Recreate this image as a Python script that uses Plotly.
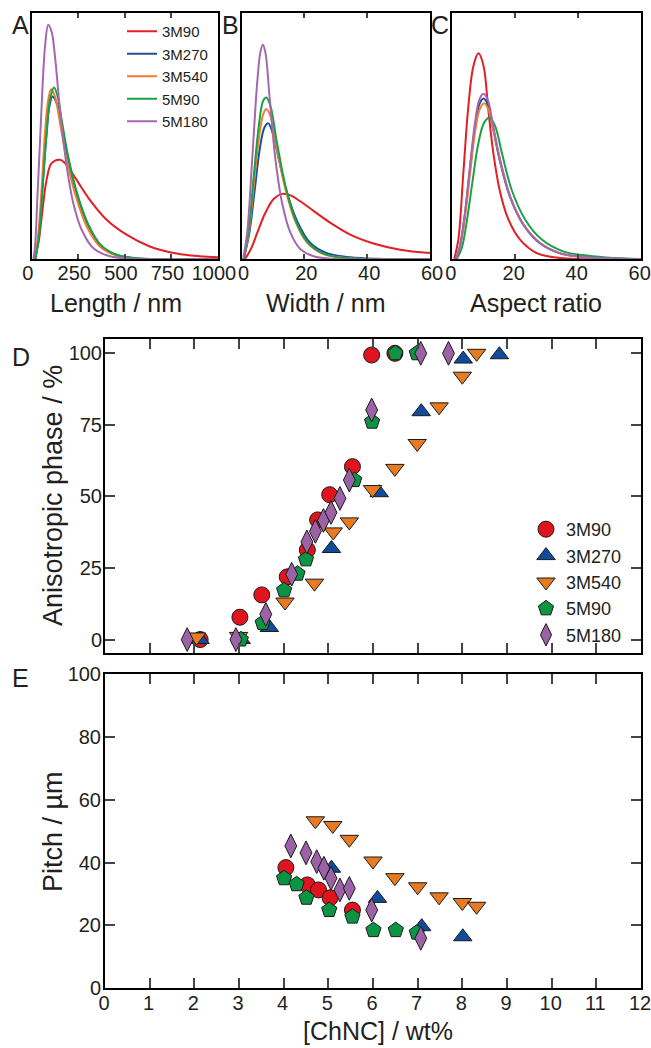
import plotly.graph_objects as go

# ---- Panels A-C: size distributions (y normalised to panel height)
samples = ['3M90', '3M270', '3M540', '5M90', '5M180']

len_3m90_x = [14, 36, 54, 80, 107, 152, 188, 241, 312, 402, 509, 634, 777, 902, 1000]
len_3m90_y = [0, 0.065, 0.173, 0.322, 0.39, 0.404, 0.383, 0.322, 0.241, 0.16, 0.099, 0.051, 0.022, 0.011, 0.007]
len_3m270_x = [20, 39, 57, 77, 95, 112, 134, 161, 196, 241, 304, 375, 464, 598, 1000]
len_3m270_y = [0, 0.106, 0.282, 0.485, 0.621, 0.661, 0.634, 0.539, 0.404, 0.268, 0.136, 0.051, 0.014, 0.001, 0]
len_3m540_x = [18, 36, 54, 71, 89, 104, 125, 152, 188, 232, 295, 366, 455, 580, 1000]
len_3m540_y = [0, 0.106, 0.295, 0.512, 0.648, 0.691, 0.661, 0.553, 0.404, 0.268, 0.133, 0.051, 0.014, 0.001, 0]
len_5m90_x = [21, 41, 59, 80, 98, 120, 137, 161, 196, 241, 304, 375, 464, 598, 1000]
len_5m90_y = [0, 0.106, 0.295, 0.512, 0.648, 0.698, 0.668, 0.566, 0.417, 0.275, 0.14, 0.054, 0.015, 0.001, 0]
len_5m180_x = [9, 18, 30, 45, 59, 73, 89, 107, 125, 152, 188, 223, 268, 330, 420, 545, 1000]
len_5m180_y = [0, 0.051, 0.241, 0.485, 0.715, 0.878, 0.953, 0.925, 0.824, 0.607, 0.377, 0.228, 0.119, 0.045, 0.011, 0.001, 0]

wid_3m90_x = [1.1, 2.9, 5, 7.6, 10.3, 12.9, 15.6, 18.7, 23, 28.3, 34.6, 42, 50.5, 60]
wid_3m90_y = [0, 0.038, 0.106, 0.188, 0.245, 0.265, 0.259, 0.235, 0.195, 0.147, 0.099, 0.063, 0.038, 0.024]
wid_3m270_x = [0.7, 2.5, 4.1, 5.8, 7.3, 8.5, 9.9, 11.9, 14.5, 17.7, 21.9, 27.2, 34.6, 43, 60]
wid_3m270_y = [0, 0.106, 0.269, 0.446, 0.535, 0.552, 0.514, 0.405, 0.269, 0.154, 0.065, 0.024, 0.007, 0.001, 0]
wid_3m540_x = [0.7, 2.3, 3.9, 5.5, 6.9, 7.9, 9.2, 11.3, 14, 17.1, 20.8, 26.1, 34.6, 60]
wid_3m540_y = [0, 0.106, 0.297, 0.487, 0.589, 0.61, 0.582, 0.446, 0.283, 0.154, 0.068, 0.02, 0.003, 0]
wid_5m90_x = [0.7, 2.3, 3.9, 5.5, 6.9, 7.9, 9.2, 11.3, 14, 17.1, 20.8, 26.1, 32.5, 60]
wid_5m90_y = [0, 0.12, 0.337, 0.541, 0.644, 0.657, 0.623, 0.473, 0.297, 0.161, 0.072, 0.022, 0.004, 0]
wid_5m180_x = [0.5, 1.8, 3.4, 5.0, 6.0, 6.8, 7.6, 9.0, 10.8, 12.9, 15.6, 18.7, 23, 28.3, 60]
wid_5m180_y = [0, 0.106, 0.405, 0.718, 0.841, 0.872, 0.841, 0.65, 0.405, 0.229, 0.106, 0.041, 0.011, 0.001, 0]

ar_3m90_x = [0.8, 2.1, 3.7, 5.3, 6.9, 8.5, 10.1, 11.6, 13.2, 15.3, 18, 21.7, 27, 34.4, 60]
ar_3m90_y = [0, 0.079, 0.351, 0.623, 0.786, 0.837, 0.786, 0.61, 0.433, 0.276, 0.161, 0.079, 0.024, 0.004, 0]
ar_3m270_x = [1.4, 2.6, 4.2, 5.8, 7.4, 8.8, 10.1, 11.4, 13.2, 15.3, 18.5, 22.8, 28, 34.4, 42.9, 53.4, 60]
ar_3m270_y = [0, 0.052, 0.181, 0.365, 0.535, 0.63, 0.653, 0.63, 0.528, 0.399, 0.253, 0.139, 0.064, 0.023, 0.007, 0.001, 0]
ar_3m540_x = [1.4, 2.6, 4.2, 5.8, 7.4, 8.9, 10.3, 11.6, 13.4, 15.6, 18.7, 23, 28.3, 34.6, 42.9, 53.4, 60]
ar_3m540_y = [0, 0.045, 0.167, 0.344, 0.514, 0.61, 0.634, 0.61, 0.514, 0.392, 0.249, 0.136, 0.063, 0.022, 0.007, 0.001, 0]
ar_5m90_x = [1.6, 3.2, 4.8, 6.7, 8.5, 10.3, 12, 13.8, 15.9, 19, 23.3, 28.6, 35.4, 42.9, 51.3, 60]
ar_5m90_y = [0, 0.045, 0.154, 0.324, 0.473, 0.555, 0.575, 0.541, 0.433, 0.283, 0.161, 0.079, 0.031, 0.014, 0.004, 0]
ar_5m180_x = [1.4, 2.6, 4.2, 5.8, 7.4, 8.8, 10.1, 11.4, 13.2, 15.3, 18.5, 22.8, 28, 34.4, 42.9, 53.4, 60]
ar_5m180_y = [0, 0.052, 0.188, 0.378, 0.555, 0.65, 0.673, 0.65, 0.541, 0.405, 0.256, 0.14, 0.065, 0.024, 0.007, 0.001, 0]

# ---- Panel D: anisotropic phase fraction (%) vs [ChNC] (wt%)
aniso_3m90_x = [2.13, 3.02, 3.51, 4.08, 4.53, 4.76, 5.03, 5.54, 5.97, 6.49]
aniso_3m90_y = [0, 7.8, 15.6, 21.9, 31.3, 41.8, 50.6, 60.4, 99.4, 100]
aniso_3m270_x = [2.13, 3.05, 3.68, 5.07, 6.14, 7.08, 8.02, 8.83]
aniso_3m270_y = [0, 0, 4.2, 31.8, 51.3, 79.6, 98, 99.5]
aniso_3m540_x = [2.05, 2.99, 4.03, 4.69, 5.11, 5.47, 5.99, 6.49, 6.99, 7.48, 8.0, 8.32]
aniso_3m540_y = [0.9, 1.1, 13.1, 19.7, 37.6, 41.1, 52.4, 59.8, 68.5, 81.3, 92, 100]
aniso_5m90_x = [3.04, 3.53, 4.01, 4.31, 4.5, 5.58, 5.98, 6.5, 6.98]
aniso_5m90_y = [0, 5.8, 17.2, 23, 28, 55.7, 76.1, 100, 100]
aniso_5m180_x = [1.84, 2.93, 3.6, 4.18, 4.52, 4.71, 4.89, 5.06, 5.26, 5.47, 5.97, 7.07, 7.69]
aniso_5m180_y = [0, 0, 8.8, 22.8, 34.1, 37.8, 41.6, 44.4, 49.3, 55.7, 80.2, 100, 100]

# ---- Panel E: pitch (um) vs [ChNC] (wt%)
pitch_3m90_x = [4.05, 4.53, 4.78, 5.04, 5.54]
pitch_3m90_y = [38.4, 32.9, 31.3, 28.8, 24.9]
pitch_3m270_x = [5.07, 6.1, 7.09, 8.01]
pitch_3m270_y = [38.2, 28.6, 19.6, 16.4]
pitch_3m540_x = [4.71, 5.1, 5.47, 6.0, 6.49, 7.0, 7.48, 8.0, 8.32]
pitch_3m540_y = [53.3, 51.8, 47.4, 40.5, 35.2, 32.3, 29.1, 27.3, 26.1]
pitch_5m90_x = [4.01, 4.29, 4.51, 5.02, 5.54, 6.01, 6.51, 6.98]
pitch_5m90_y = [35, 33.1, 28.8, 24.9, 22.8, 18.5, 18.5, 17.7]
pitch_5m180_x = [4.16, 4.5, 4.74, 4.9, 5.06, 5.26, 5.47, 5.97, 7.07]
pitch_5m180_y = [45.3, 43.1, 40.3, 38.2, 35, 31.3, 31.8, 24.9, 15.9]

line_colors = ['#E31E24', '#1B4E9B', '#EE7F2D', '#1AA048', '#A467B0']
marker_colors = ['#E0141E', '#104C9C', '#E87B22', '#0B9444', '#9B62A6']
symbols = ['circle', 'triangle-up', 'triangle-down', 'pentagon', 'diamond-tall']
sizes = [16, 16, 16, 16, 17]

FONT = 'Liberation Sans, Arial, sans-serif'
TXT = '#231F20'

# full window canvas; the page's default body margin is removed in post_script
W, H = 651, 1048


def fx(px):
    return px / W


def fy(py):
    return 1 - py / H


length_curves = [(len_3m90_x, len_3m90_y), (len_3m270_x, len_3m270_y), (len_3m540_x, len_3m540_y),
                 (len_5m90_x, len_5m90_y), (len_5m180_x, len_5m180_y)]
width_curves = [(wid_3m90_x, wid_3m90_y), (wid_3m270_x, wid_3m270_y), (wid_3m540_x, wid_3m540_y),
                (wid_5m90_x, wid_5m90_y), (wid_5m180_x, wid_5m180_y)]
ar_curves = [(ar_3m90_x, ar_3m90_y), (ar_3m270_x, ar_3m270_y), (ar_3m540_x, ar_3m540_y),
             (ar_5m90_x, ar_5m90_y), (ar_5m180_x, ar_5m180_y)]
aniso = [(aniso_3m90_x, aniso_3m90_y), (aniso_3m270_x, aniso_3m270_y), (aniso_3m540_x, aniso_3m540_y),
         (aniso_5m90_x, aniso_5m90_y), (aniso_5m180_x, aniso_5m180_y)]
pitch = [(pitch_3m90_x, pitch_3m90_y), (pitch_3m270_x, pitch_3m270_y), (pitch_3m540_x, pitch_3m540_y),
         (pitch_5m90_x, pitch_5m90_y), (pitch_5m180_x, pitch_5m180_y)]

fig = go.Figure()

for k, (curves, ax) in enumerate([(length_curves, ''), (width_curves, '2'), (ar_curves, '3')]):
    for i, name in enumerate(samples):
        x, y = curves[i]
        fig.add_trace(go.Scatter(
            x=x, y=y, mode='lines', name=name,
            line=dict(color=line_colors[i], width=2, shape='spline', smoothing=1.0),
            xaxis='x' + ax, yaxis='y' + ax,
            showlegend=(k == 0), legend='legend',
        ))

for data, ax in [(aniso, '4'), (pitch, '5')]:
    for i, name in enumerate(samples):
        x, y = data[i]
        fig.add_trace(go.Scatter(
            x=x, y=y, mode='markers', name=name,
            marker=dict(symbol=symbols[i], size=sizes[i], color=marker_colors[i],
                        line=dict(color='#1a1a1a', width=1)),
            xaxis='x' + ax, yaxis='y' + ax,
            showlegend=(ax == '4'), legend='legend2',
        ))

frame = dict(showline=True, linewidth=2, linecolor='black', mirror='allticks',
             showgrid=False, zeroline=False, automargin=False, ticklabeloverflow='allow',
             tickfont=dict(family=FONT, size=20, color=TXT))

top_row = [fy(259), fy(13.3)]
fig.update_layout(
    width=W, height=H,
    margin=dict(l=0, r=0, t=0, b=0, pad=0),
    paper_bgcolor='white', plot_bgcolor='white',
    font=dict(family=FONT, color=TXT),
    xaxis=dict(frame, domain=[fx(31.7), fx(218)], anchor='y', range=[0, 1000],
               tickvals=[0, 250, 500, 750, 1000], ticks='inside', ticklen=5, tickwidth=1.5,
               ticklabelshift=-4, ticklabelstandoff=-5),
    yaxis=dict(frame, domain=top_row, anchor='x', range=[0, 1.0], showticklabels=False, ticks=''),
    xaxis2=dict(frame, domain=[fx(241.5), fx(430)], anchor='y2', range=[0, 60],
                dtick=20, ticks='inside', ticklen=5, tickwidth=1.5, ticklabelshift=2,
                ticklabelstandoff=-5),
    yaxis2=dict(frame, domain=top_row, anchor='x2', range=[0, 1.0], showticklabels=False, ticks=''),
    xaxis3=dict(frame, domain=[fx(451.7), fx(640.7)], anchor='y3', range=[0, 60],
                dtick=20, ticks='inside', ticklen=5, tickwidth=1.5, ticklabelstandoff=-5,
                ticklabelshift=-1),
    yaxis3=dict(frame, domain=top_row, anchor='x3', range=[0, 1.0], showticklabels=False, ticks=''),
    xaxis4=dict(frame, domain=[fx(105), fx(641)], anchor='y4', range=[0, 12], dtick=1,
                ticks='inside', ticklen=10, tickwidth=2, showticklabels=False),
    yaxis4=dict(frame, domain=[fy(653), fy(339)], anchor='x4', range=[-4.7, 105],
                tickvals=[0, 25, 50, 75, 100], ticks='inside', ticklen=10, tickwidth=2,
                ticklabelstandoff=-3),
    xaxis5=dict(frame, domain=[fx(105), fx(641)], anchor='y5', range=[0, 12], dtick=1,
                ticks='inside', ticklen=10, tickwidth=2, ticklabelstandoff=-4,
                ticklabelshift=-1),
    yaxis5=dict(frame, domain=[fy(988.3), fy(674)], anchor='x5', range=[0, 100],
                dtick=20, ticks='inside', ticklen=10, tickwidth=2, ticklabelstandoff=-2),
    legend=dict(x=fx(122), y=fy(15), xanchor='left', yanchor='top', bgcolor='rgba(0,0,0,0)',
                font=dict(family=FONT, size=15, color=TXT), tracegroupgap=0,
                itemwidth=30),
    legend2=dict(x=fx(526), y=fy(511), xanchor='left', yanchor='top', bgcolor='rgba(0,0,0,0)',
                 font=dict(family=FONT, size=18, color=TXT), tracegroupgap=0,
                 itemwidth=30),
)

notes = [
    ('Length / nm', 116, 303, 0, 25),
    ('Width / nm', 325, 303, 0, 25),
    ('Aspect ratio', 536, 303, 0, 25),
    ('Anisotropic phase / %', 53, 496, -90, 27),
    ('Pitch / µm', 53, 832, -90, 27),
    ('[ChNC] / wt%', 378, 1031, 0, 25),
    ('A', 20.5, 25, 0, 25),
    ('B', 230, 25, 0, 25),
    ('C', 440, 25, 0, 25),
    ('D', 21, 357, 0, 25),
    ('E', 20, 678, 0, 25),
]
for text, x, y, angle, size in notes:
    fig.add_annotation(text=text, x=fx(x), y=fy(y), xref='paper', yref='paper',
                       xanchor='center', yanchor='middle', showarrow=False, textangle=angle,
                       font=dict(family=FONT, size=size, color=TXT))

fig.write_html("out.html", config={'displayModeBar': False},
               post_script="document.body.style.margin='0';document.body.style.overflow='hidden';")
